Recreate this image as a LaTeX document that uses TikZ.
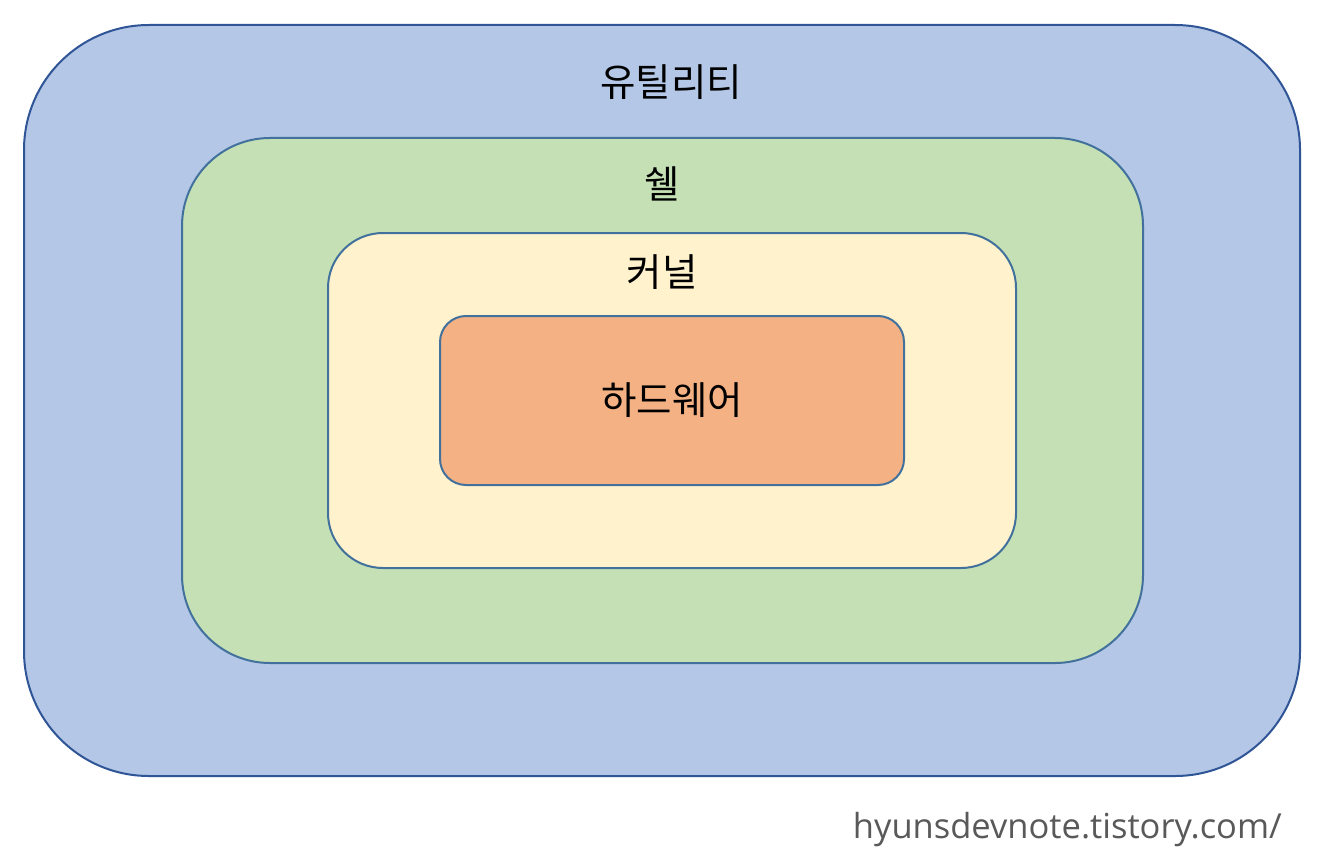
\documentclass[tikz,border=0pt]{standalone}
\usepackage{fontspec}
\setmainfont{Open Sans}
\newfontfamily\kr{Noto Sans CJK KR}
\definecolor{utilfill}{HTML}{B4C7E7}
\definecolor{utildraw}{HTML}{2F5597}
\definecolor{shellfill}{HTML}{C5E0B4}
\definecolor{kernfill}{HTML}{FFF2CC}
\definecolor{hwfill}{HTML}{F4B183}
\definecolor{innerdraw}{HTML}{41719C}
\definecolor{urlgray}{HTML}{595959}
\tikzset{
  layer/.style={line width=2pt},
  lbl/.style={font=\kr\fontsize{38.5}{42}\selectfont, text=black, inner sep=0pt},
}
\begin{document}
\begin{tikzpicture}[x=1pt,y=-1pt]
\useasboundingbox[fill=white] (0,0) rectangle (1329,853);
\draw[layer, fill=utilfill, draw=utildraw, rounded corners=125pt] (24,25) rectangle (1300,776);
\draw[layer, fill=shellfill, draw=innerdraw, rounded corners=88pt] (182,138) rectangle (1143,663);
\draw[layer, fill=kernfill, draw=innerdraw, rounded corners=55pt] (328,233) rectangle (1016,568);
\draw[layer, fill=hwfill, draw=innerdraw, rounded corners=26pt] (440,316) rectangle (904,485);
\node[lbl] (util) at (671,82) {유틸리티};
\node[lbl] (shell) at (662,184) {쉘};
\node[lbl] (kernel) at (662,272) {커널};
\node[lbl] (hw) at (672,400) {하드웨어};
\node[anchor=base east, inner sep=0pt, text=urlgray, font=\fontsize{34.5}{40}\selectfont] (url) at (1282,838) {hyunsdevnote.tistory.com/};
\end{tikzpicture}
\end{document}
